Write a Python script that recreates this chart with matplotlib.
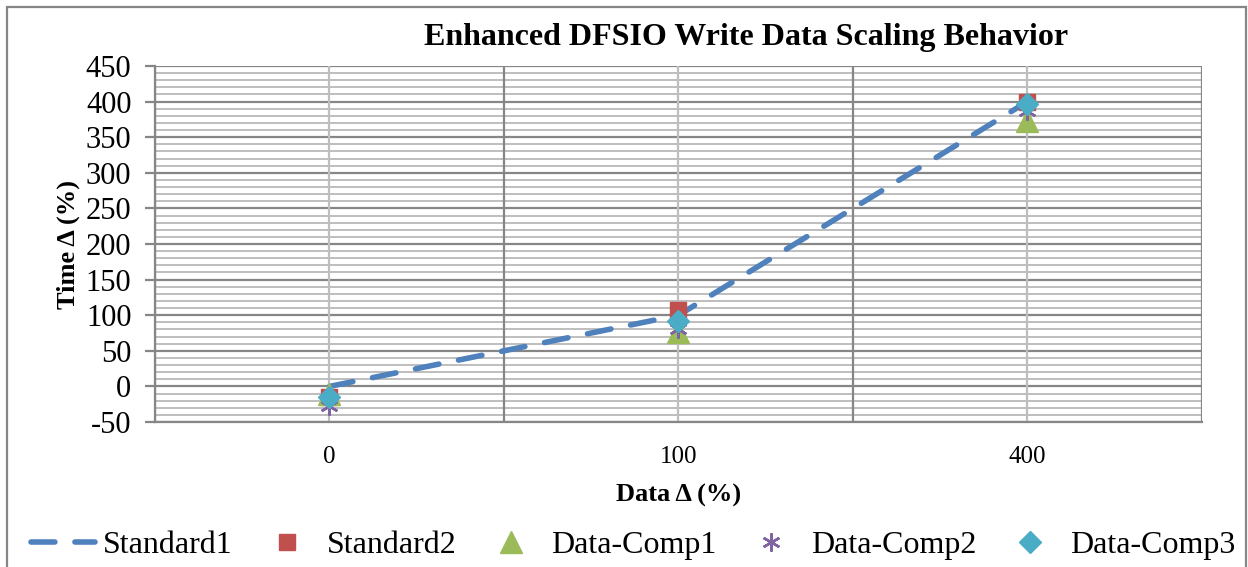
import matplotlib
matplotlib.use("Agg")
import matplotlib.pyplot as plt
from matplotlib.patches import Rectangle

# data
categories = ["0", "100", "400"]
standard1 = [0, 100, 400]
standard2 = [-15, 107, 400]
data_comp1 = [-11, 77, 373]
data_comp2 = [-28, 80, 387]
data_comp3 = [-15, 92, 397]

plt.rcParams['font.family'] = ['Liberation Serif', 'DejaVu Serif']
plt.rcParams['axes.unicode_minus'] = False

fig = plt.figure(figsize=(12.48, 5.67), dpi=100)
ax = fig.add_axes([0.1242, 0.2557, 0.8389, 0.6279])

x = list(range(len(categories)))

# grid lines
for v in range(-50, 451, 10):
    major = (v % 50 == 0)
    ax.axhline(v, color='#868686' if major else '#BEBEBE', lw=1.6 if major else 1.4, zorder=0)
for i in range(len(categories) + 1):
    ax.axvline(i - 0.5, color='#868686', lw=1.6, zorder=0)
for i in x:
    ax.axvline(i, color='#BEBEBE', lw=1.6, zorder=0)

ax.plot(x, standard1, color='#4F81BD', lw=4, linestyle=(0, (4.3, 3.6)),
        dash_capstyle='round', label='Standard1', zorder=3)
ax.plot(x, standard2, 's', color='#C0504D', ms=11, mec='#C0504D', label='Standard2', zorder=4)
ax.plot(x, data_comp1, '^', color='#9BBB59', ms=16, label='Data-Comp1', zorder=4)
ax.plot(x, data_comp2, marker=(6, 2, 0), ls='none', color='#8064A2', mew=1.8, ms=13,
        label='Data-Comp2', zorder=5)
ax.plot(x, data_comp3, 'D', color='#4BACC6', ms=11, label='Data-Comp3', zorder=6)

ax.set_xlim(-0.5, 2.5)
ax.set_ylim(-50, 450)
ax.set_yticks(range(-50, 451, 50))
ax.set_xticks(x)
ax.set_xticklabels(categories)
ax.tick_params(axis='y', labelsize=22, length=7, color='#868686', width=1.6, pad=10)
ax.tick_params(axis='x', labelsize=18, length=0, pad=17)
for s in ['top', 'right']:
    ax.spines[s].set_visible(False)
for s in ['left', 'bottom']:
    ax.spines[s].set_color('#868686')
    ax.spines[s].set_linewidth(1.6)

ax.set_ylabel('Time Δ (%)', fontsize=19, fontweight='bold', labelpad=4)
ax.set_xlabel('Data Δ (%)', fontsize=19, fontweight='bold', labelpad=12)
fig.text(0.598, 0.933, 'Enhanced DFSIO Write Data Scaling Behavior', fontsize=23,
         fontweight='bold', ha='center', va='center')

fig.legend(loc='center', bbox_to_anchor=(0.5076, 0.038), ncol=5, frameon=False,
           fontsize=23, handlelength=2.0, handletextpad=0.25, columnspacing=0.7,
           borderaxespad=0, borderpad=0)

# outer chart border
fig.patches.append(Rectangle((0.006, -0.05), 0.992, 1.037, transform=fig.transFigure,
                             fill=False, edgecolor='#868686', lw=1.6))

fig.savefig('out.png', dpi=100)
